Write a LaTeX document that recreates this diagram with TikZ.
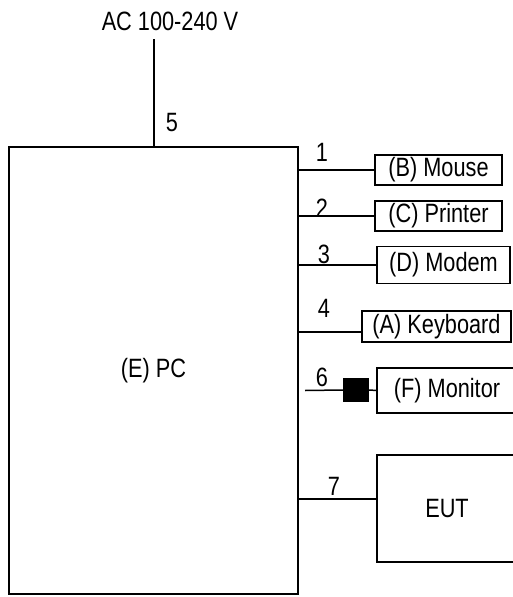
\documentclass[tikz,border=0pt]{standalone}
\usepackage{fontspec}
\setmainfont{Liberation Sans}[FakeStretch=0.82]
\usetikzlibrary{positioning}

\begin{document}
\begin{tikzpicture}[x=1pt, y=-1pt, line width=1.5pt,
      unit/.style={draw, rectangle, inner sep=0pt, outer sep=0pt,
         font=\fontsize{26.5}{28}\selectfont},
      portnum/.style={inner sep=0pt, font=\fontsize{26.5}{28}\selectfont},
      plug/.style={fill=black, draw=none, inner sep=0pt, outer sep=0pt,
         minimum width=26pt, minimum height=24pt}]
            \useasboundingbox (0,0) rectangle (512,597);
            % PC
            \node[unit, minimum width=289pt, minimum height=447pt] (pc) at (153.5,370.5) {(E) PC};
            % Mains supply
            \node[inner sep=0pt, font=\fontsize{26.5}{28}\selectfont] (ac) at (170,21) {AC 100-240 V};
            \coordinate (acin) at (154,39);
            \draw (acin) -- (acin |- pc.north);
            \node[portnum] (n5) at (172,123) {5};
            % Peripherals
            \node[unit, minimum width=127pt, minimum height=30pt] (mouse) at (438.5,170) {(B) Mouse};
            \node[unit, minimum width=127pt, minimum height=30pt] (printer) at (438.5,216) {(C) Printer};
            \node[unit, minimum width=133pt, minimum height=37pt] (modem) at (443.5,265) {(D) Modem};
            \node[unit, minimum width=149pt, minimum height=31pt] (keyboard) at (436.5,326.5) {(A) Keyboard};
            \node[unit, minimum width=140pt, minimum height=45pt] (monitor) at (447,390.5) {(F) Monitor};
            \node[unit, minimum width=140pt, minimum height=107pt] (eut) at (447,508.5) {EUT};
            % Cables
            \draw (pc.east |- mouse.west) -- (mouse.west);
            \draw (pc.east |- printer.west) -- (printer.west);
            \draw (pc.east |- modem.west) -- (modem.west);
            \coordinate (p4) at (298,332);
            \draw (p4) -- (p4 -| keyboard.west);
            \coordinate (p6) at (305,390.5);
            \node[plug] (ferrite) at (356,390) {};
            \draw (p6) -- (ferrite.west);
            \draw (ferrite.east) -- (monitor.west);
            \coordinate (p7) at (298,499);
            \draw (p7) -- (p7 -| eut.west);
            % Cable numbers
            \node[portnum] (n1) at (322,152) {1};
            \node[portnum] (n2) at (322,208) {2};
            \node[portnum] (n3) at (324,254) {3};
            \node[portnum] (n4) at (324,308) {4};
            \node[portnum] (n6) at (322,377) {6};
            \node[portnum] (n7) at (334,486) {7};
\end{tikzpicture}
\end{document}
